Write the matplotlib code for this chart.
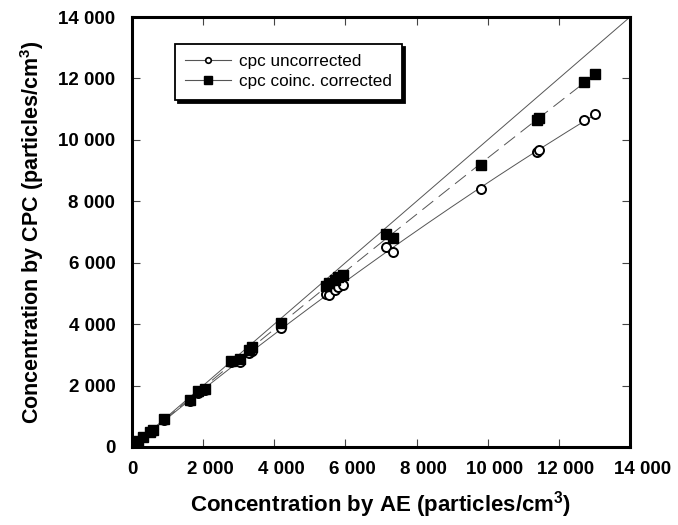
import numpy as np
import matplotlib
matplotlib.use("Agg")
import matplotlib.pyplot as plt
from matplotlib.lines import Line2D
from matplotlib.transforms import ScaledTranslation

plt.rcParams["font.family"] = ["Liberation Sans", "DejaVu Sans"]
plt.rcParams["mathtext.fontset"] = "custom"
plt.rcParams["mathtext.rm"] = "Liberation Sans:bold"
plt.rcParams["mathtext.it"] = "Liberation Sans:bold"
plt.rcParams["mathtext.bf"] = "Liberation Sans:bold"
plt.rcParams["lines.scale_dashes"] = False

# concentration measured by the aerosol electrometer (particles/cm3)
ae = [60, 170, 310, 500, 600, 900, 1620, 1850, 2060, 2770, 3030, 3290, 3380,
      4180, 5450, 5540, 5710, 5800, 5920, 7140, 7350, 9810, 11380, 11430,
      12720, 13030]
# CPC readings, raw and corrected for coincidence
cpc_uncorrected = [80, 175, 315, 490, 530, 890, 1500, 1770, 1850, 2760, 2770,
                   3060, 3110, 3870, 4980, 4960, 5120, 5210, 5280, 6500, 6350,
                   8400, 9620, 9680, 10660, 10840]
cpc_corrected = [80, 180, 320, 500, 540, 910, 1540, 1820, 1900, 2810, 2860,
                 3150, 3240, 4040, 5250, 5340, 5450, 5520, 5590, 6940, 6790,
                 9170, 10650, 10710, 11900, 12150]

ticks = [0, 2000, 4000, 6000, 8000, 10000, 12000, 14000]
tick_labels = ["0", "2 000", "4 000", "6 000", "8 000", "10 000", "12 000", "14 000"]
series_names = ["cpc uncorrected", "cpc coinc. corrected"]


def fit_curve(x, y):
    """Least squares y = a*x + b*x^2 through the origin."""
    x = np.asarray(x, float)
    y = np.asarray(y, float)
    coef, *_ = np.linalg.lstsq(np.column_stack([x, x ** 2]), y, rcond=None)
    xs = np.linspace(0, x.max(), 200)
    return xs, coef[0] * xs + coef[1] * xs ** 2


fig = plt.figure(figsize=(6.78, 5.25), dpi=100)
ax = fig.add_axes([0.1947, 0.1486, 0.7345, 0.819])

line_col = "#555555"
ax.plot([0, ticks[-1]], [0, ticks[-1]], color=line_col, lw=0.7, zorder=1)
xs, ys = fit_curve(ae, cpc_uncorrected)
ax.plot(xs, ys, color=line_col, lw=0.7, zorder=1)
xs, ys = fit_curve(ae, cpc_corrected)
ax.plot(xs, ys, color=line_col, lw=0.7, ls=(0, (10, 5)), zorder=1)

ax.plot(ae, cpc_uncorrected, "o", ms=6.5, mfc="white", mec="black", mew=1.4,
        ls="none", zorder=3)
ax.plot(ae, cpc_corrected, "s", ms=7.5, color="black", ls="none", zorder=4)

ax.set_xlim(0, ticks[-1])
ax.set_ylim(0, ticks[-1])
ax.set_xticks(ticks)
ax.set_yticks(ticks)
ax.set_xticklabels([])
ax.set_yticklabels(tick_labels, fontsize=13.5, fontweight="bold")
ax.tick_params(direction="in", length=6, width=0.8, color="#444444",
               top=True, right=True)
ax.tick_params(axis="y", pad=12)
for sp in ax.spines.values():
    sp.set_linewidth(2.2)

# x tick labels sit a little right of their ticks in the original
for v, lab in zip(ticks, tick_labels):
    dx = 0 if v == 0 else (9 if v == ticks[-1] else 5)
    off = ScaledTranslation(dx / 72, -10 / 72, fig.dpi_scale_trans)
    ax.text(v, 0, lab, transform=ax.get_xaxis_transform() + off,
            ha="center", va="top", fontsize=13.5, fontweight="bold")

ax.set_xlabel(r"Concentration by AE (particles/cm$^{3}$)", fontsize=16,
              fontweight="bold", labelpad=27)
ax.set_ylabel(r"Concentration by CPC (particles/cm$^{3}$)", fontsize=15.5,
              fontweight="bold", labelpad=9)

handles = [
    Line2D([], [], color=line_col, lw=0.8, marker="o", ms=4, mfc="white",
           mec="black", mew=1.2),
    Line2D([], [], color=line_col, lw=0.8, marker="s", ms=5.5, mfc="black",
           mec="black"),
]
leg = ax.legend(handles, series_names, loc="upper left",
                bbox_to_anchor=(0.086, 0.937), borderaxespad=0, fontsize=12.3,
                frameon=True, fancybox=False, edgecolor="black",
                handlelength=2.7, borderpad=0.6, labelspacing=0.3,
                handletextpad=0.45,
                shadow={"facecolor": "black", "edgecolor": "black", "alpha": 1})
leg.get_frame().set_linewidth(1.3)

fig.savefig("out.png", dpi=100)
